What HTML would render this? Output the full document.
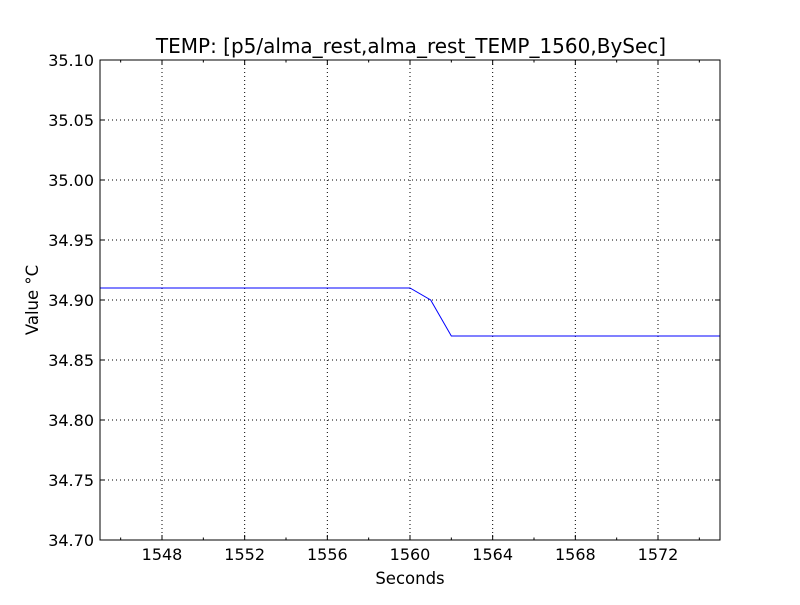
<!DOCTYPE html>
<html><head><meta charset="utf-8"><style>
body{margin:0;background:#fff;width:800px;height:600px;overflow:hidden}
text{font-family:"DejaVu Sans","Liberation Sans",sans-serif;fill:#000}
</style></head><body>
<svg id="chart" width="800" height="600">
<rect x="0" y="0" width="800" height="600" fill="#fff"/>
<text x="411" y="53" font-size="20" text-anchor="middle">TEMP: [p5/alma_rest,alma_rest_TEMP_1560,BySec]</text>
<g id="grid"></g><g id="axes"></g><g id="series"></g>
<rect x="100" y="60" width="620" height="480" fill="none" stroke="#000" stroke-width="1"/>
<text x="410" y="584" font-size="16.5" text-anchor="middle">Seconds</text>
<text x="38" y="300" font-size="16.5" text-anchor="middle" transform="rotate(-90 38 300)">Value °C</text>
</svg>
<script>
const xs=[1545,1546,1547,1548,1549,1550,1551,1552,1553,1554,1555,1556,1557,1558,1559,1560,1561,1562,1563,1564,1565,1566,1567,1568,1569,1570,1571,1572,1573,1574,1575,1576];
const ys=[34.91,34.91,34.91,34.91,34.91,34.91,34.91,34.91,34.91,34.91,34.91,34.91,34.91,34.91,34.91,34.91,34.90,34.87,34.87,34.87,34.87,34.87,34.87,34.87,34.87,34.87,34.87,34.87,34.87,34.87,34.87,34.87];
const xTicks=[1548,1552,1556,1560,1564,1568,1572];
const xMinor=[1546,1550,1554,1558,1562,1566,1570,1574];
const yTicks=[34.70,34.75,34.80,34.85,34.90,34.95,35.00,35.05,35.10];
const X0=1545,X1=1575,Y0=34.70,Y1=35.10,L=100,R=720,T=60,B=540;
const sx=v=>L+(v-X0)/(X1-X0)*(R-L);
const sy=v=>B-(v-Y0)/(Y1-Y0)*(B-T);
const NS="http://www.w3.org/2000/svg";
const g=document.getElementById('grid'),a=document.getElementById('axes'),s=document.getElementById('series');
function mk(t,at,p){const e=document.createElementNS(NS,t);for(const k in at)e.setAttribute(k,at[k]);p.appendChild(e);return e;}
xTicks.forEach(v=>{const x=sx(v);
const gl=mk('line',{x1:x,x2:x,y1:T,y2:B,stroke:'#000','stroke-dasharray':'1,3','stroke-width':1},g);


mk('line',{x1:x,x2:x,y1:B,y2:B-5,stroke:'#000'},a);
mk('line',{x1:x,x2:x,y1:T,y2:T+5,stroke:'#000'},a);
const t=mk('text',{x:x,y:B+20,'font-size':16,'text-anchor':'middle'},a);t.textContent=v;

});
xMinor.forEach(v=>{const x=sx(v);
mk('line',{x1:x,x2:x,y1:B,y2:B-2.5,stroke:'#000'},a);
mk('line',{x1:x,x2:x,y1:T,y2:T+2.5,stroke:'#000'},a);});
yTicks.forEach(v=>{const y=sy(v);
const gl=mk('line',{x1:L,x2:R,y1:y,y2:y,stroke:'#000','stroke-dasharray':'1,3','stroke-width':1},g);


mk('line',{x1:L,x2:L+5,y1:y,y2:y,stroke:'#000'},a);
mk('line',{x1:R,x2:R-5,y1:y,y2:y,stroke:'#000'},a);
const t=mk('text',{x:L-6,y:y+6,'font-size':16,'text-anchor':'end'},a);t.textContent=v.toFixed(2);

});
const cp=mk('clipPath',{id:'clip'},s);mk('rect',{x:L,y:T,width:R-L,height:B-T},cp);
const pl=mk('polyline',{points:xs.map((v,i)=>sx(v)+','+sy(ys[i])).join(' '),fill:'none',stroke:'#0000ff','stroke-width':1,'clip-path':'url(#clip)'},s);


</script>
</body></html>
